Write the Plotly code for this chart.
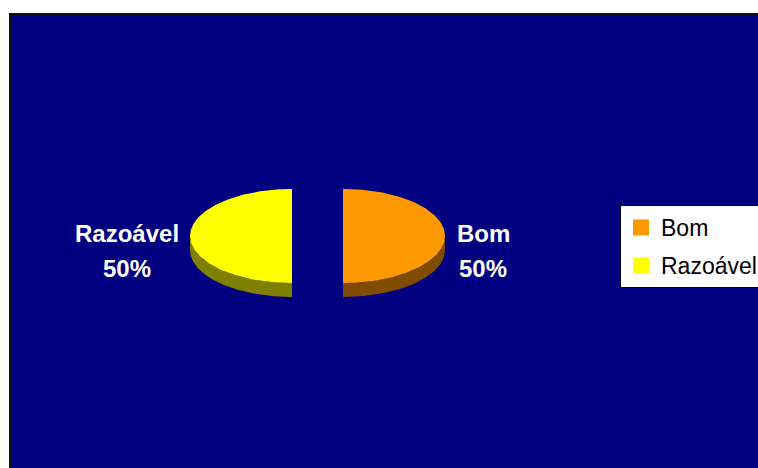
import numpy as np
import plotly.graph_objects as go

# ---- data ----
categories = ["Bom", "Razoável"]
values = [50, 50]
top_colors = ["#FF9900", "#FFFF00"]
side_colors = ["#7F4C00", "#808000"]

# ---- layout constants (chart-space units = pixels of the plot area) ----
W, H = 758, 468
ML, MT = 10, 14
CX, CY = 317.5, 236.0      # pie centre
RX, RY = 102.0, 47.0       # ellipse radii of the top face
DEPTH = 14.0               # pie thickness
EXPLODE = 25.5             # slice pull-out
NAVY = "#000080"

fig = go.Figure()

total = float(sum(values))
start = 0.0
slices = []
for cat, v, tc, sc in zip(categories, values, top_colors, side_colors):
    a0 = start
    a1 = start + 360.0 * v / total
    start = a1
    mid = np.radians((a0 + a1) / 2)
    ox = EXPLODE * np.sin(mid)
    oy = -EXPLODE * np.cos(mid) * RY / RX
    slices.append((cat, a0, a1, ox, oy, tc, sc))

def ell(theta_deg, ox, oy, dy=0.0):
    t = np.radians(theta_deg)
    return CX + ox + RX * np.sin(t), CY + oy - RY * np.cos(t) + dy

# side faces first
for cat, a0, a1, ox, oy, tc, sc in slices:
    lo, hi = max(a0, 90.0), min(a1, 270.0)
    if hi > lo:
        th = np.linspace(lo, hi, 120)
        xt, yt = ell(th, ox, oy)
        xb, yb = ell(th[::-1], ox, oy, DEPTH)
        xs = np.concatenate([xt, xb, xt[:1]])
        ys = np.concatenate([yt, yb, yt[:1]])
        fig.add_trace(go.Scatter(x=xs, y=ys, mode="lines", fill="toself",
                                 fillcolor=sc, line=dict(width=0, color=sc),
                                 showlegend=False, hoverinfo="skip"))

# top faces
for cat, a0, a1, ox, oy, tc, sc in slices:
    th = np.linspace(a0, a1, 200)
    xa, ya = ell(th, ox, oy)
    xs = np.concatenate([[CX + ox], xa, [CX + ox]])
    ys = np.concatenate([[CY + oy], ya, [CY + oy]])
    fig.add_trace(go.Scatter(x=xs, y=ys, mode="lines", fill="toself",
                             fillcolor=tc, line=dict(width=0, color=tc),
                             showlegend=False, hoverinfo="skip"))

# legend entries
for cat, tc in zip(categories, top_colors):
    fig.add_trace(go.Scatter(x=[None], y=[None], mode="markers", name=cat,
                             legendgroup=cat,
                             marker=dict(symbol="square", size=16, color=tc,
                                         line=dict(width=0))))

# data labels
label_pos = {"Bom": 483, "Razoável": 127}
lab_font = dict(family="Liberation Sans, Arial, sans-serif", size=24, color="white")
for cat, v in zip(categories, values):
    pct = f"{round(100 * v / total)}%"
    fig.add_annotation(x=label_pos[cat], y=233, text=f"<b>{cat}</b>", showarrow=False,
                       xanchor="center", yanchor="middle", font=lab_font)
    fig.add_annotation(x=label_pos[cat], y=268, text=f"<b>{pct}</b>", showarrow=False,
                       xanchor="center", yanchor="middle", font=lab_font)

# navy chart-area border
fig.add_shape(type="rect", xref="paper", yref="paper", x0=0, x1=1.05, y0=-0.05, y1=1,
              line=dict(color="#111111", width=2), fillcolor="rgba(0,0,0,0)", layer="above")

fig.update_layout(
    width=W, height=H,
    margin=dict(l=ML, r=0, t=MT, b=0, pad=0, autoexpand=False),
    paper_bgcolor="white",
    plot_bgcolor=NAVY,
    showlegend=True,
    legend=dict(x=(620 - ML) / (W - ML), y=(H - 205) / (H - MT), xanchor="left", yanchor="top",
                traceorder="grouped", tracegroupgap=5,
                bgcolor="white", bordercolor="black", borderwidth=1,
                font=dict(family="Liberation Sans, Arial, sans-serif", size=23, color="black")),
    hovermode=False,
    xaxis=dict(range=[ML, W], visible=False, fixedrange=True),
    yaxis=dict(range=[H, MT], visible=False, fixedrange=True),
)

fig.write_html("out.html")
